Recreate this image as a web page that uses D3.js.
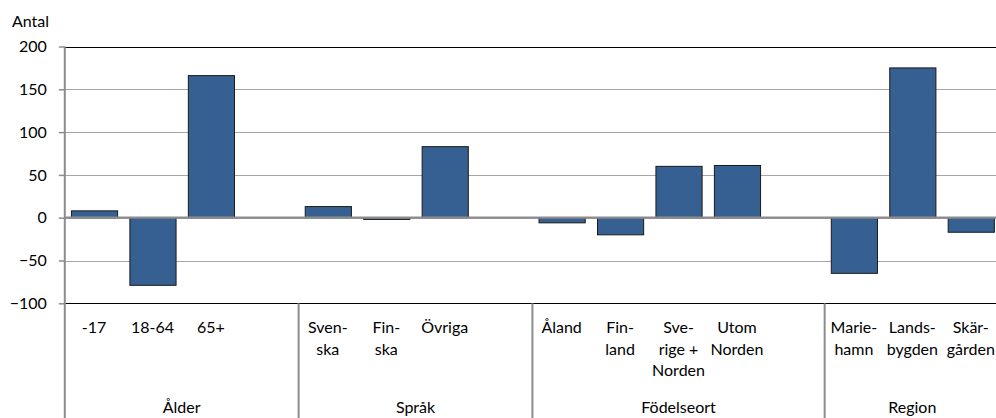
<!DOCTYPE html>
<html><head><meta charset="utf-8">
<script src="https://cdn.jsdelivr.net/npm/d3@7"></script>
<style>
html,body{margin:0;padding:0;background:#fff;}
svg{display:block;font-family:Lato,"Open Sans",sans-serif;}
</style></head>
<body><svg id="chart" width="996" height="418"></svg>
<script>
const groups = ["Ålder", "Språk", "Födelseort", "Region"];
const groupSizes = [4, 4, 5, 3];
const categories = ["-17", "18-64", "65+", "", "Sven-\nska", "Fin-\nska", "Övriga", "",
  "Åland", "Fin-\nland", "Sve-\nrige +\nNorden", "Utom\nNorden", "",
  "Marie-\nhamn", "Lands-\nbygden", "Skär-\ngården"];
const values = [8, -79, 166, null, 13, -2, 83, null, -6, -20, 60, 61, null, -65, 175, -17];
const yTicks = [200, 150, 100, 50, 0, -50, -100];
const yTitle = "Antal";

(function () {
const svg = d3.select("#chart");
const W = 996, H = 418;
const mLeft = 64.8, mRight = 1000, mTop = 46.5, mBottom = 303.3;

const x = d3.scaleBand().domain(d3.range(categories.length))
  .range([mLeft, mRight]).paddingInner(0.21).paddingOuter(0.105);
const y = d3.scaleLinear().domain([-100, 200]).range([mBottom, mTop]);

// gridlines
svg.append("g").selectAll("line").data(yTicks).join("line")
  .attr("x1", mLeft).attr("x2", mRight)
  .attr("y1", d => Math.round(y(d)) + 0.5).attr("y2", d => Math.round(y(d)) + 0.5)
  .attr("stroke", d => (d === 200 || d === -100) ? "#000" : "#a6a6a6")
  .attr("stroke-width", 1.2);

// bars
const data = values.map((v, i) => ({i, v})).filter(d => d.v !== null);
svg.append("g").selectAll("rect").data(data).join("rect")
  .attr("x", d => x(d.i) + 0.5)
  .attr("width", x.bandwidth())
  .attr("y", d => y(Math.max(0, d.v)))
  .attr("height", d => Math.abs(y(d.v) - y(0)))
  .attr("fill", "#366092")
  .attr("stroke", "#1a1a1a").attr("stroke-width", 1);

// zero line
svg.append("line").attr("x1", mLeft).attr("x2", mRight)
  .attr("y1", y(0)).attr("y2", y(0))
  .attr("stroke", "#8c8c8c").attr("stroke-width", 2.2);

// y axis
const yAxis = d3.axisLeft(y).tickValues(yTicks).tickSize(6).tickPadding(12).tickFormat(d3.format("d"));
const ga = svg.append("g").attr("transform", `translate(${mLeft},0)`).call(yAxis);
ga.select(".domain").remove();
ga.selectAll(".tick line").attr("stroke", "#8c8c8c").attr("stroke-width", 1.5);
ga.selectAll(".tick text").attr("font-size", 16).attr("fill", "#000")
  .attr("font-family", "Lato, 'Open Sans', sans-serif");
svg.append("line").attr("x1", mLeft).attr("x2", mLeft).attr("y1", mTop).attr("y2", H)
  .attr("stroke", "#8c8c8c").attr("stroke-width", 2);

svg.append("text").attr("x", 49).attr("y", 27).attr("text-anchor", "end")
  .attr("font-size", 16).attr("fill", "#000").text(yTitle);

// category labels
const lab = svg.append("g").attr("font-size", 16).attr("fill", "#000").attr("text-anchor", "middle");
categories.forEach((c, i) => {
  if (!c) return;
  const cx = x(i) + x.bandwidth() / 2;
  const t = lab.append("text").attr("x", cx).attr("y", 333);
  c.split("\n").forEach((line, k) => {
    t.append("tspan").attr("x", cx).attr("y", 333 + k * 21.7).text(line);
  });
});

// group separators and labels
let start = 0;
groups.forEach((g, gi) => {
  const n = groupSizes[gi];
  const x0 = x.step() * start + mLeft;
  const x1 = x.step() * (start + n) + mLeft;
  if (gi < groups.length - 1) {
    svg.append("line").attr("x1", x1).attr("x2", x1).attr("y1", mBottom).attr("y2", H)
      .attr("stroke", "#8c8c8c").attr("stroke-width", 2);
  }
  svg.append("text").attr("x", (x0 + x1) / 2).attr("y", 413).attr("text-anchor", "middle")
    .attr("font-size", 16).attr("fill", "#000").text(g);
  start += n;
});
})();
</script></body></html>
